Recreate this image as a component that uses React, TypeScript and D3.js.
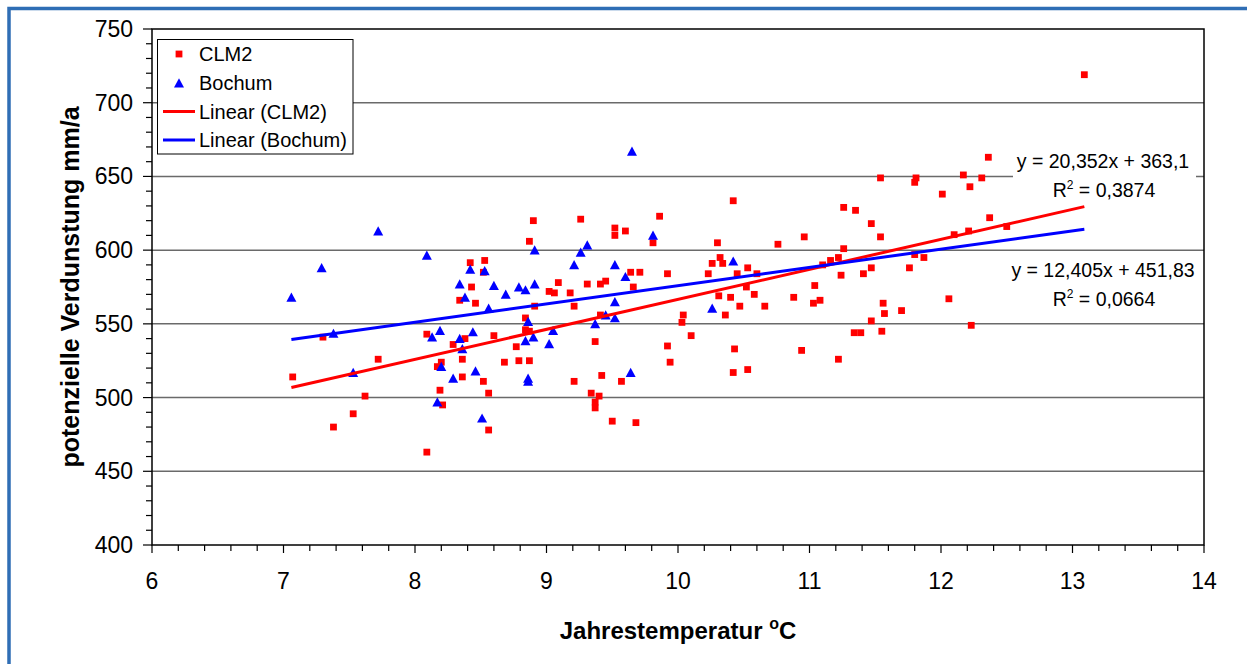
import React from "react";
import * as d3 from "d3";

// CLM2 scenario points: annual temperature (°C) and potential evaporation (mm/a)
const clm2Temp = [
  7.07, 7.3, 7.72, 7.62, 7.53, 7.38, 8.09, 8.09, 8.17, 8.2, 8.19, 8.21,
  8.87, 9.52, 9.6, 9.81, 8.42, 8.53, 8.52, 8.43, 8.34, 8.46, 9.09, 9.02,
  9.06, 9.18, 9.31, 9.41, 9.45, 9.64, 9.71, 9.92, 9.66, 8.91, 9.21, 8.84,
  8.84, 8.87, 9.41, 10.04, 10.03, 10.1, 8.38, 8.6, 8.29, 8.77, 9.37, 9.92,
  8.36, 8.68, 8.79, 8.87, 9.94, 8.36, 8.52, 8.56, 8.56, 9.21, 9.42, 9.57,
  9.34, 9.4, 9.37, 9.37, 9.5, 9.68, 10.42, 9.86, 10.3, 10.76, 10.96, 11.26,
  11.35, 11.47, 11.54, 11.26, 11.22, 11.16, 11.1, 10.32, 10.34, 10.26, 10.23, 10.53,
  10.45, 10.6, 10.52, 10.58, 10.31, 10.4, 10.47, 10.66, 10.88, 11.04, 11.03, 11.08,
  11.24, 11.41, 11.47, 11.76, 11.8, 11.87, 12.06, 11.56, 11.57, 11.7, 11.47, 11.34,
  11.39, 11.55, 10.36, 10.43, 10.42, 10.53, 10.94, 11.22, 13.09, 12.36, 11.81, 11.8,
  12.17, 12.31, 12.22, 12.01, 12.37, 12.5, 12.21, 12.1, 12.23, 11.54, 8.9, 9.26, 9.52,
];
const clm2Evap = [
  514, 541, 526, 501, 489, 480, 463, 543, 521, 524, 505, 495,
  606, 610, 613, 605, 591.5, 593, 585, 575, 566, 564, 578, 572,
  571, 571, 577, 577, 579, 585, 585, 584, 575, 562, 562, 554,
  546, 545, 556, 556, 551, 542, 540, 542, 536, 534.5, 538, 535,
  526, 524, 525, 525, 524, 514, 511, 503, 478, 511, 515, 511,
  503, 501, 497, 493, 484, 483, 633.5, 623, 605, 604, 609, 629,
  627, 618, 609, 601, 595, 593, 590, 595, 591, 591, 584, 588,
  584, 584, 575, 570, 569, 568, 562, 562, 568, 576, 564, 566,
  583, 584, 588, 588, 597, 595, 567, 564, 557, 559, 552, 544,
  544, 545, 556, 533, 517, 519, 532, 526, 719, 663, 649, 646,
  651, 649, 643, 638, 622, 616, 613, 610.5, 549, 649, 620, 621, 615,
];

// Bochum station points
const bochumTemp = [
  7.06, 7.29, 7.38, 7.53, 7.72, 8.09, 8.13, 8.19, 8.2, 8.17, 8.42, 8.53,
  8.34, 8.38, 8.6, 8.69, 8.79, 8.84, 8.91, 8.91, 9.21, 9.26, 9.31, 9.81,
  9.52, 9.6, 9.52, 9.45, 9.52, 9.37, 8.56, 8.86, 8.84, 8.9, 9.05, 9.02,
  8.34, 8.44, 8.36, 8.46, 8.29, 8.86, 8.86, 9.64, 8.51, 9.65, 10.42, 10.26,
];
const bochumEvap = [
  568, 588, 543.5, 517, 613, 596.5, 541, 545.5, 521, 497, 587, 586,
  577, 568, 576, 570, 575, 573, 577, 600, 590, 598.5, 603.5, 610,
  590, 582, 565, 556, 554, 550, 560.5, 551.5, 538.5, 541, 545.5, 536.5,
  540, 544.5, 533, 518, 513, 513, 511, 517, 486, 667, 592.5, 560.5,
];

// trend line coefficients [slope, intercept] and their labels
const clm2Trend = [20.352, 363.1];
const bochumTrend = [12.405, 451.83];
const clm2Label = ["y = 20,352x + 363,1", "0,3874"];
const bochumLabel = ["y = 12,405x + 451,83", "0,0664"];

const xTicks = [6, 7, 8, 9, 10, 11, 12, 13, 14];
const yTicks = [400, 450, 500, 550, 600, 650, 700, 750];

const FONT = "'Liberation Sans', Arial, Helvetica, sans-serif";
const RED = "#FF0000";
const BLUE = "#0000FF";

const x = d3.scaleLinear().domain([6, 14]).range([152, 1204]);
const y = d3.scaleLinear().domain([400, 750]).range([545, 29]);

const tri = "M0,-4.8L5,4.4L-5,4.4Z";

function EqLabel({ lines, cy1, cy2 }) {
  return (
    <g fontFamily={FONT} fontSize={19.5} fill="#000" textAnchor="middle">
      <text x={1103} y={cy1}>{lines[0]}</text>
      <text x={1104} y={cy2}>
        R<tspan dy={-8} fontSize={12}>2</tspan>
        <tspan dy={8}> = {lines[1]}</tspan>
      </text>
    </g>
  );
}

export default function App() {
  const allTemp = clm2Temp.concat(bochumTemp);
  const xr = d3.extent(allTemp);
  const line = d3.line().x((d) => x(d[0])).y((d) => y(d[1]));
  const trend = (c) => xr.map((t) => [t, c[0] * t + c[1]]);

  const minorY = d3.range(400, 751, 10);
  const minorX = d3.range(6, 14.001, 0.2);

  return (
    <svg
      width={1247}
      height={664}
      style={{ position: "absolute", left: 0, top: 0, background: "#fff" }}
    >
      <rect x={9} y={8.5} width={1300} height={700} fill="#fff" stroke="#2F6EB5" strokeWidth={3.5} />

      {/* gridlines */}
      {yTicks.slice(1, -1).map((v) => (
        <line key={"g" + v} x1={152} x2={1204} y1={y(v)} y2={y(v)} stroke="#6a6a6a" strokeWidth={1.5} />
      ))}

      {/* white box behind the first equation */}
      <rect x={1013} y={147} width={183} height={58} fill="#fff" />

      {/* CLM2 squares */}
      {clm2Temp.map((t, i) => (
        <rect key={"c" + i} x={x(t) - 3.4} y={y(clm2Evap[i]) - 3.4} width={6.8} height={6.8} fill={RED} />
      ))}
      {/* Bochum triangles */}
      {bochumTemp.map((t, i) => (
        <path key={"b" + i} d={tri} transform={`translate(${x(t)},${y(bochumEvap[i])})`} fill={BLUE} />
      ))}

      {/* trend lines */}
      <path d={line(trend(clm2Trend))} stroke={RED} strokeWidth={3} fill="none" />
      <path d={line(trend(bochumTrend))} stroke={BLUE} strokeWidth={3} fill="none" />

      <EqLabel lines={clm2Label} cy1={168} cy2={197} />
      <EqLabel lines={bochumLabel} cy1={277} cy2={306} />

      {/* plot frame */}
      <rect x={152} y={29} width={1052} height={516} fill="none" stroke="#000" strokeWidth={1.5} />

      {/* y ticks */}
      {minorY.map((v) => (
        <line key={"my" + v} x1={v % 50 === 0 ? 143 : 146} x2={152} y1={y(v)} y2={y(v)} stroke="#000" strokeWidth={1.2} />
      ))}
      {yTicks.map((v) => (
        <text key={"yl" + v} x={133} y={y(v) + 8} textAnchor="end" fontFamily={FONT} fontSize={23}>
          {v}
        </text>
      ))}

      {/* x ticks */}
      {minorX.map((v, i) => (
        <line key={"mx" + i} x1={x(v)} x2={x(v)} y1={545} y2={i % 5 === 0 ? 553 : 551} stroke="#000" strokeWidth={1.2} />
      ))}
      {xTicks.map((v) => (
        <text key={"xl" + v} x={x(v)} y={589} textAnchor="middle" fontFamily={FONT} fontSize={23}>
          {v}
        </text>
      ))}

      {/* axis titles */}
      <text x={678} y={639} textAnchor="middle" fontFamily={FONT} fontSize={24} fontWeight="bold">
        Jahrestemperatur <tspan dy={-10} fontSize={16}>o</tspan>
        <tspan dy={10}>C</tspan>
      </text>
      <text
        transform="translate(79,287) rotate(-90)"
        textAnchor="middle"
        fontFamily={FONT}
        fontSize={25}
        fontWeight="bold"
      >
        potenzielle Verdunstung mm/a
      </text>

      {/* legend */}
      <g fontFamily={FONT} fontSize={20}>
        <rect x={157.5} y={39.5} width={195.5} height={114.5} fill="#fff" stroke="#000" strokeWidth={1} />
        <rect x={179 - 3.4} y={54 - 3.4} width={6.8} height={6.8} fill={RED} />
        <text x={199} y={61}>CLM2</text>
        <path d={tri} transform="translate(179,83)" fill={BLUE} />
        <text x={199} y={90}>Bochum</text>
        <line x1={163} x2={195} y1={111.5} y2={111.5} stroke={RED} strokeWidth={3} />
        <text x={199} y={118.5}>Linear (CLM2)</text>
        <line x1={163} x2={195} y1={140} y2={140} stroke={BLUE} strokeWidth={3} />
        <text x={199} y={147}>Linear (Bochum)</text>
      </g>
    </svg>
  );
}
